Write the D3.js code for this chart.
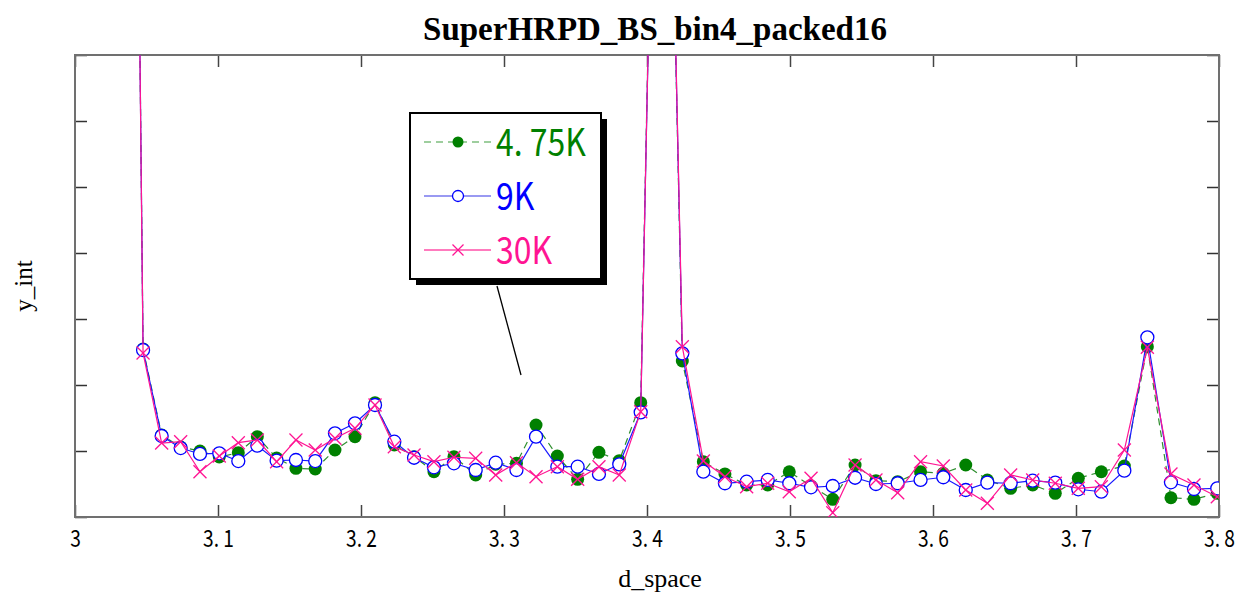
<!DOCTYPE html>
<html>
<head>
<meta charset="utf-8">
<script src="https://cdn.jsdelivr.net/npm/d3@7"></script>
<style>
  body { margin: 0; background: #fff; }
  svg { display: block; }
</style>
</head>
<body>
<div id="chart"></div>
<script>
// d-spacing of each bin
const dSpace = [3.0343, 3.0476, 3.0606, 3.0739, 3.0874, 3.1009, 3.1142, 3.1275, 3.1410, 3.1545,
  3.1680, 3.1818, 3.1958, 3.2098, 3.2233, 3.2371, 3.2510, 3.2650, 3.2802, 3.2942,
  3.3087, 3.3224, 3.3373, 3.3515, 3.3664, 3.3806, 3.3956, 3.4101, 3.4247, 3.4394,
  3.4545, 3.4697, 3.4844, 3.4995, 3.5147, 3.5299, 3.5455, 3.5601, 3.5753, 3.5913,
  3.6072, 3.6229, 3.6380, 3.6543, 3.6697, 3.6855, 3.7016, 3.7177, 3.7338, 3.7499,
  3.7664, 3.7825, 3.7988];

const y475K = [30, 2.545, 1.242, 1.061, 1.000, 0.909, 0.974, 1.217, 0.894, 0.738,
  0.727, 1.015, 1.217, 1.732, 1.091, 0.914, 0.686, 0.914, 0.636, 0.800,
  0.814, 1.394, 0.924, 0.571, 0.980, 0.853, 1.732, 17, 2.364, 0.838,
  0.652, 0.485, 0.485, 0.686, 0.470, 0.268, 0.788, 0.550, 0.535, 0.686,
  0.662, 0.788, 0.561, 0.435, 0.485, 0.359, 0.586, 0.686, 0.773, 2.580,
  0.292, 0.268, 0.359];

const y9K = [30, 2.530, 1.227, 1.045, 0.955, 0.965, 0.848, 1.080, 0.853, 0.864,
  0.848, 1.268, 1.420, 1.697, 1.141, 0.898, 0.753, 0.814, 0.712, 0.823,
  0.712, 1.217, 0.762, 0.762, 0.652, 0.798, 1.586, 17, 2.480, 0.686,
  0.511, 0.535, 0.561, 0.511, 0.450, 0.470, 0.595, 0.500, 0.511, 0.561,
  0.602, 0.409, 0.520, 0.511, 0.550, 0.520, 0.420, 0.383, 0.702, 2.723,
  0.526, 0.424, 0.435];

const y30K = [30, 2.485, 1.121, 1.141, 0.686, 0.924, 1.126, 1.167, 0.838, 1.167,
  1.015, 1.192, 1.344, 1.697, 1.065, 0.939, 0.838, 0.905, 0.889, 0.636,
  0.823, 0.611, 0.762, 0.571, 0.762, 0.636, 1.595, 17, 2.580, 0.848,
  0.611, 0.459, 0.511, 0.383, 0.586, 0.065, 0.788, 0.561, 0.368, 0.838,
  0.773, 0.409, 0.208, 0.636, 0.561, 0.511, 0.435, 0.459, 1.015, 2.571,
  0.652, 0.485, 0.308];

const xTicks = [3, 3.1, 3.2, 3.3, 3.4, 3.5, 3.6, 3.7, 3.8];
const xTickLabels = ["3", "3. 1", "3. 2", "3. 3", "3. 4", "3. 5", "3. 6", "3. 7", "3. 8"];
const yTicks = [0, 1, 2, 3, 4, 5, 6, 7];
const seriesNames = ["4. 75K", "9K", "30K"];

// Chart dimensions
const W = 1237, H = 594;
const margin = { top: 55, right: 18, bottom: 77, left: 75 };
const width = W - margin.left - margin.right;
const height = H - margin.top - margin.bottom;

const xScale = d3.scaleLinear().domain([3, 3.8]).range([0, width]);
const yScale = d3.scaleLinear().domain([0, 7]).range([height, 0]);

const svgRoot = d3.select("#chart").append("svg")
  .attr("width", W)
  .attr("height", H);

const svg = svgRoot.append("g")
  .attr("transform", `translate(${margin.left},${margin.top})`);

svg.append("clipPath").attr("id", "plotClip")
  .append("rect").attr("x", 0).attr("y", 0).attr("width", width).attr("height", height);

//Axes: inward ticks on all four sides

const tickFont = "'Noto Sans CJK JP', 'Noto Sans', sans-serif";

const xBottom = svg.append("g")
  .attr("transform", `translate(0,${height})`)
  .call(d3.axisBottom(xScale).tickValues(xTicks).tickSize(-12).tickPadding(13)
    .tickFormat((d, i) => xTickLabels[i]));
xBottom.select(".domain").remove();
xBottom.selectAll(".tick line").attr("stroke", "#444").attr("stroke-width", 1.5);
xBottom.selectAll(".tick text")
  .attr("fill", "#000")
  .style("font-family", tickFont)
  .style("font-size", "24px")
  .attr("transform", "scale(0.8,1)");

const xTop = svg.append("g")
  .call(d3.axisTop(xScale).tickValues(xTicks).tickSize(-12).tickFormat(""));
xTop.select(".domain").remove();
xTop.selectAll(".tick line").attr("stroke", "#444").attr("stroke-width", 1.5);

const yLeft = svg.append("g")
  .call(d3.axisLeft(yScale).tickValues(yTicks).tickSize(-12).tickFormat(""));
yLeft.select(".domain").remove();
yLeft.selectAll(".tick line").attr("stroke", "#333").attr("stroke-width", 1.5);

const yRight = svg.append("g")
  .attr("transform", `translate(${width},0)`)
  .call(d3.axisRight(yScale).tickValues(yTicks).tickSize(-12).tickFormat(""));
yRight.select(".domain").remove();
yRight.selectAll(".tick line").attr("stroke", "#333").attr("stroke-width", 1.5);

// frame
svg.append("rect")
  .attr("x", 0).attr("y", 0)
  .attr("width", width).attr("height", height)
  .attr("fill", "none")
  .attr("stroke", "#707070")
  .attr("stroke-width", 2);

//Series

const series = [
  { name: seriesNames[0], values: y475K, color: "#008000", lineColor: "#2f8f2f", dash: "7,5", marker: "dot" },
  { name: seriesNames[1], values: y9K, color: "#0000ff", lineColor: "#1a1aff", dash: null, marker: "circle" },
  { name: seriesNames[2], values: y30K, color: "#ff1493", lineColor: "#ff1493", dash: null, marker: "cross" }
];

const line = d3.line()
  .x((d) => xScale(d.x))
  .y((d) => yScale(d.y));

const plot = svg.append("g").attr("clip-path", "url(#plotClip)");

function drawMarker(g, type, color, r) {
  if (type === "dot") {
    g.append("circle").attr("r", r).attr("fill", color);
  } else if (type === "circle") {
    g.append("circle").attr("r", r).attr("fill", "#fff").attr("stroke", color).attr("stroke-width", 1.3);
  } else {
    g.append("line").attr("x1", -r).attr("y1", -r).attr("x2", r).attr("y2", r)
      .attr("stroke", color).attr("stroke-width", 1.3);
    g.append("line").attr("x1", -r).attr("y1", r).attr("x2", r).attr("y2", -r)
      .attr("stroke", color).attr("stroke-width", 1.3);
  }
}

series.forEach((s) => {
  const pts = dSpace.map((x, i) => ({ x: x, y: s.values[i] }));
  const sg = plot.append("g");
  sg.append("path")
    .datum(pts)
    .attr("fill", "none")
    .attr("stroke", s.lineColor)
    .attr("stroke-width", 1.2)
    .attr("stroke-dasharray", s.dash)
    .attr("d", line);
  sg.selectAll("g.mk")
    .data(pts)
    .join("g")
    .attr("class", "mk")
    .attr("transform", (d) => `translate(${xScale(d.x)},${yScale(d.y)})`)
    .each(function() { drawMarker(d3.select(this), s.marker, s.color, 6.5); });
});

//Legend with drop shadow and leader line

const lg = svgRoot.append("g").attr("transform", "translate(410,113)");
const lgW = 191, lgH = 166;

svgRoot.append("line")
  .attr("x1", 497).attr("y1", 286)
  .attr("x2", 521).attr("y2", 375)
  .attr("stroke", "#000").attr("stroke-width", 1.3);

lg.append("rect").attr("x", 6).attr("y", 6).attr("width", lgW).attr("height", lgH).attr("fill", "#000");
lg.append("rect").attr("x", 0).attr("y", 0).attr("width", lgW).attr("height", lgH)
  .attr("fill", "#fff").attr("stroke", "#000").attr("stroke-width", 2);

const legendColors = ["#7fbf7f", "#7777ee", "#ff4fa8"];
series.forEach((s, i) => {
  const row = lg.append("g").attr("transform", `translate(0,${29 + i * 54})`);
  row.append("line")
    .attr("x1", 14).attr("x2", 81)
    .attr("stroke", legendColors[i])
    .attr("stroke-width", 1.6)
    .attr("stroke-dasharray", s.dash);
  const mk = row.append("g").attr("transform", "translate(48,0)");
  drawMarker(mk, s.marker, s.color, 5.5);
  row.append("text")
    .attr("x", 86)
    .attr("y", 0)
    .attr("dy", "0.36em")
    .attr("fill", s.color)
    .style("font-family", tickFont)
    .style("font-size", "38px")
    .attr("transform", "translate(86,0) scale(0.84,1) translate(-86,0)")
    .text(s.name);
});

//Titles

svgRoot.append("text")
  .attr("x", 655)
  .attr("y", 40)
  .attr("text-anchor", "middle")
  .style("font-family", "'Liberation Serif', 'Times New Roman', serif")
  .style("font-weight", "bold")
  .style("font-size", "33px")
  .text("SuperHRPD_BS_bin4_packed16");

svgRoot.append("text")
  .attr("x", 660)
  .attr("y", 587)
  .attr("text-anchor", "middle")
  .style("font-family", "'Liberation Serif', 'Times New Roman', serif")
  .style("font-size", "26px")
  .text("d_space");

svgRoot.append("text")
  .attr("transform", "translate(32,286) rotate(-90)")
  .attr("text-anchor", "middle")
  .style("font-family", "'Liberation Serif', 'Times New Roman', serif")
  .style("font-size", "25px")
  .text("y_int");
</script>
</body>
</html>
